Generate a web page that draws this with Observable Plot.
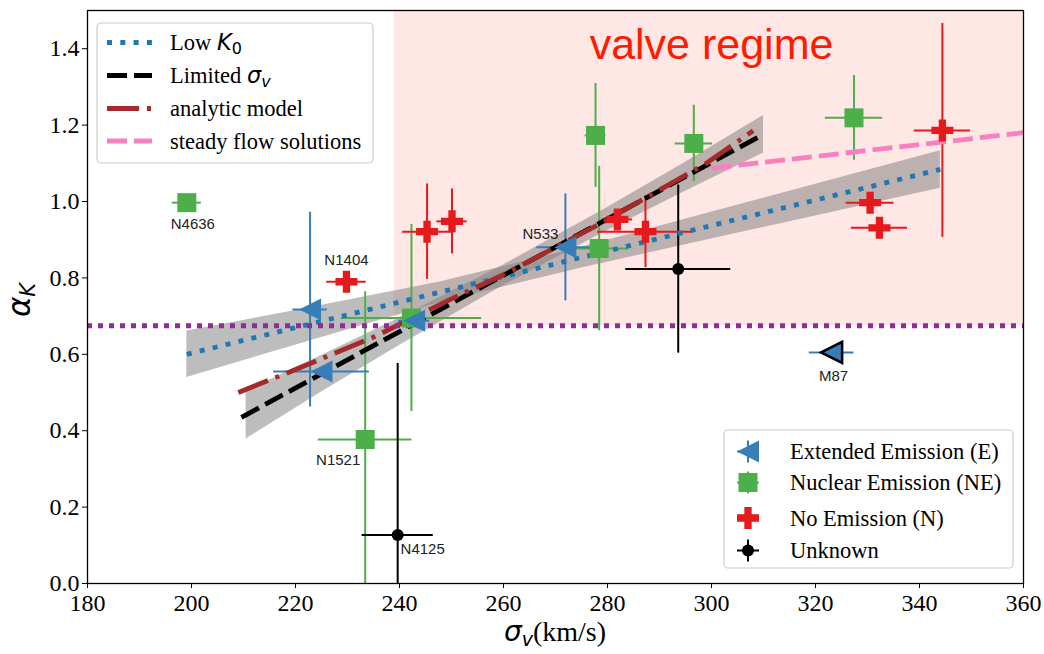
<!DOCTYPE html>
<html><head><meta charset="utf-8">
<script src="https://cdn.jsdelivr.net/npm/d3@7"></script>
<script src="https://cdn.jsdelivr.net/npm/@observablehq/plot@0.6"></script>
<style>body{margin:0;background:#fff}#chart{width:1044px;height:654px}</style>
</head><body><div id="chart"></div>
<script>
// ---- axis ticks ----
const xTicks = [180, 200, 220, 240, 260, 280, 300, 320, 340, 360];
const yTicks = [0, 0.2, 0.4, 0.6, 0.8, 1.0, 1.2, 1.4];

// ---- Extended Emission (E) ----
const eName = ["", "", "", "N533", "M87"];
const eSig = [222.8, 225.0, 242.8, 271.9, 323.1];
const eSigErr = [3.3, 9.2, 3.0, 5.5, 4.3];
const eAlpha = [0.717, 0.555, 0.688, 0.880, 0.605];
const eAlphaErr = [0.255, 0.0, 0.0, 0.14, 0.0];

// ---- Nuclear Emission (NE) ----
const nName = ["N4636", "", "N1521", "", "", "", ""];
const nSig = [199.1, 242.3, 233.4, 277.7, 278.4, 296.6, 327.4];
const nSigErr = [2.8, 13.5, 9.0, 2.0, 5.7, 3.6, 5.5];
const nAlpha = [0.997, 0.695, 0.377, 1.173, 0.877, 1.152, 1.219];
const nAlphaErr = [0.015, 0.245, 0.387, 0.136, 0.215, 0.10, 0.111];

// ---- No Emission (N) ----
const oName = ["N1404", "", "", "", "", "", "", ""];
const oSig = [229.8, 245.3, 250.1, 281.9, 287.3, 330.5, 332.3, 344.4];
const oSigErr = [3.8, 4.7, 2.9, 2.9, 9.2, 4.6, 5.4, 5.4];
const oAlpha = [0.790, 0.921, 0.948, 0.953, 0.921, 0.997, 0.931, 1.186];
const oAlphaErr = [0.0, 0.125, 0.085, 0.0, 0.094, 0.0, 0.0, 0.28];

// ---- Unknown ----
const uName = ["N4125", ""];
const uSig = [239.65, 293.6];
const uSigErr = [6.85, 10.1];
const uAlpha = [0.127, 0.823];
const uAlphaErr = [0.449, 0.22];

// ---- fits ----
const lowKX = [199.1, 344.0];
const lowKY = [0.600, 1.084];
const lowKBandX = [199.1, 219, 248, 275, 306, 344.0];
const lowKBandLo = [0.539, 0.620, 0.736, 0.826, 0.920, 1.035];
const lowKBandHi = [0.661, 0.712, 0.790, 0.880, 0.994, 1.133];

const limX = [209.6, 310.0];
const limY = [0.435, 1.176];
const limBandX = [210.5, 225, 240, 260, 280, 295, 310.0];
const limBandLo = [0.378, 0.501, 0.623, 0.780, 0.924, 1.027, 1.127];
const limBandHi = [0.503, 0.597, 0.695, 0.834, 0.984, 1.103, 1.225];

const anaX = [209, 220, 235, 250, 261, 279, 290, 299, 308];
const anaY = [0.50, 0.56, 0.645, 0.745, 0.815, 0.945, 1.03, 1.10, 1.185];

const steadyX = [300, 360];
const steadyY = [1.087, 1.180];

const criticalAlpha = 0.675;
const valveX = [239, 360];
const valveY = [0.675, 1.5];

// ---- colors ----
const C = {E: "#377eb8", NE: "#4daf4a", N: "#e41a1c", U: "#000000",
  lowK: "#1f77b4", lim: "#000000", ana: "#a52a2a", steady: "#f781bf", crit: "#932a97", valve: "#fee7e4"};

function rows(name, s, se, a, ae) {
  return s.map((v, i) => ({name: name[i], s: v, se: se[i], a: a[i], ae: ae[i]}));
}
const E = rows(eName, eSig, eSigErr, eAlpha, eAlphaErr);
const NE = rows(nName, nSig, nSigErr, nAlpha, nAlphaErr);
const N = rows(oName, oSig, oSigErr, oAlpha, oAlphaErr);
const U = rows(uName, uSig, uSigErr, uAlpha, uAlphaErr);
const pts = (xs, ys) => xs.map((x, i) => ({x, y: ys[i]}));
const band = (xs, lo, hi) => xs.map((x, i) => ({x, lo: lo[i], hi: hi[i]}));

// ---- custom symbols (matplotlib-like) ----
const triLeft = {draw(ctx, size) { const h = Math.sqrt(size / Math.PI); ctx.moveTo(-h, 0); ctx.lineTo(h, -h); ctx.lineTo(h, h); ctx.closePath(); }};
const square = {draw(ctx, size) { const h = Math.sqrt(size / Math.PI); ctx.rect(-h, -h, 2 * h, 2 * h); }};
const plusSym = {draw(ctx, size) { const h = Math.sqrt(size / Math.PI), a = h / 3;
  ctx.moveTo(-a, -h); ctx.lineTo(a, -h); ctx.lineTo(a, -a); ctx.lineTo(h, -a); ctx.lineTo(h, a); ctx.lineTo(a, a);
  ctx.lineTo(a, h); ctx.lineTo(-a, h); ctx.lineTo(-a, a); ctx.lineTo(-h, a); ctx.lineTo(-h, -a); ctx.lineTo(-a, -a); ctx.closePath(); }};

function errorBars(data, color) {
  return [
    Plot.ruleX(data.filter(d => d.ae > 0), {x: "s", y1: d => d.a - d.ae, y2: d => d.a + d.ae, stroke: color, strokeWidth: 2, clip: true}),
    Plot.ruleY(data.filter(d => d.se > 0), {y: "a", x1: d => d.s - d.se, x2: d => d.s + d.se, stroke: color, strokeWidth: 2, clip: true})
  ];
}
const lineOpts = {x: "x", y: "y", strokeWidth: 4.8, strokeLinecap: "butt", strokeLinejoin: "miter"};
const lblFont = {fontFamily: "Liberation Sans", fontSize: 15, fill: "#222"};
function label(data, name, opts) {
  return Plot.text(data.filter(d => d.name === name), {x: "s", y: "a", text: "name", ...lblFont, ...opts});
}

const chart = Plot.plot({
  width: 1044, height: 654,
  marginLeft: 87, marginRight: 21, marginTop: 10, marginBottom: 71,
  style: {fontFamily: "Liberation Serif", fontSize: "24px", color: "black", background: "white"},
  x: {domain: [180, 360]},
  y: {domain: [0, 1.5]},
  marks: [
    Plot.rect([0], {x1: valveX[0], x2: valveX[1], y1: valveY[0], y2: valveY[1], fill: C.valve}),
    Plot.text(["valve regime"], {x: 300, y: 1.372, text: d => d, fill: "#ff1a00", fontFamily: "Liberation Sans", fontSize: 43, textAnchor: "middle", lineAnchor: "bottom"}),
    Plot.areaY(band(lowKBandX, lowKBandLo, lowKBandHi), {x: "x", y1: "lo", y2: "hi", fill: "#808080", fillOpacity: 0.52}),
    Plot.areaY(band(limBandX, limBandLo, limBandHi), {x: "x", y1: "lo", y2: "hi", fill: "#808080", fillOpacity: 0.52}),
    ...errorBars(NE, C.NE),
    ...errorBars(U, C.U),
    ...errorBars(E, C.E),
    ...errorBars(N, C.N),
    Plot.line(pts(lowKX, lowKY), {...lineOpts, stroke: C.lowK, strokeDasharray: "5,8.3"}),
    Plot.line(pts(limX, limY), {...lineOpts, stroke: C.lim, strokeDasharray: "20,7"}),
    Plot.line(pts(anaX, anaY), {...lineOpts, stroke: C.ana, strokeDasharray: "32,8,4,8"}),
    Plot.line(pts(steadyX, steadyY), {...lineOpts, stroke: C.steady, strokeDasharray: "20,7"}),
    Plot.ruleY([criticalAlpha], {stroke: C.crit, strokeWidth: 5, strokeDasharray: "5,6"}),
    Plot.dot(NE, {x: "s", y: "a", symbol: square, r: 9.5, fill: C.NE, stroke: "none"}),
    Plot.dot(N, {x: "s", y: "a", symbol: plusSym, r: 11, fill: C.N, stroke: "none"}),
    Plot.dot(U, {x: "s", y: "a", r: 6, fill: C.U, stroke: "none"}),
    Plot.dot(E.filter(d => d.name !== "M87"), {x: "s", y: "a", symbol: triLeft, r: 11, fill: C.E, stroke: "none"}),
    Plot.dot(E.filter(d => d.name === "M87"), {x: "s", y: "a", symbol: triLeft, r: 10.5, fill: C.E, stroke: "black", strokeWidth: 2.5}),
    label(NE, "N4636", {dx: 6, dy: 22}),
    label(N, "N1404", {dy: -22}),
    label(E, "N533", {dx: -7, dy: -13, textAnchor: "end"}),
    label(NE, "N1521", {dx: -27, dy: 21}),
    label(U, "N4125", {dx: 25, dy: 14}),
    label(E, "M87", {dx: 2, dy: 24}),
    Plot.axisX({ticks: xTicks, tickSize: 5, tickPadding: 5, tickFormat: d => String(d), label: null}),
    Plot.axisY({ticks: yTicks, tickSize: 5, tickPadding: 3, tickFormat: d3.format(".1f"), label: null}),
    Plot.frame({stroke: "black", strokeWidth: 1.3})
  ]
});
document.getElementById("chart").appendChild(chart);

// ---- axis labels & legends (drawn on the plot svg) ----
const svg = d3.select(chart);
function richText(g, x, y, parts, anchor) {
  const t = g.append("text").attr("x", x).attr("y", y).attr("text-anchor", anchor || "start").attr("fill", "black");
  parts.forEach(([s, kind, size]) => {
    const ts = t.append("tspan").text(s);
    if (kind === "it") ts.attr("font-family", "DejaVu Sans").attr("font-style", "italic").attr("font-size", size);
    else if (kind === "itsub") ts.attr("font-family", "DejaVu Sans").attr("font-style", "italic").attr("font-size", size).attr("dy", size * 0.25);
    else if (kind === "sub") ts.attr("font-family", "DejaVu Sans").attr("font-size", size).attr("dy", size * 0.25);
    else if (kind === "back") ts.attr("font-family", "Liberation Serif").attr("font-size", size[0]).attr("dy", -size[1] * 0.25);
    else ts.attr("font-family", "Liberation Serif").attr("font-size", size);
  });
  return t;
}
// x label
richText(svg, 555, 641, [["σ", "it", 28], ["v", "itsub", 19], ["(km/s)", "back", [28, 19]]], "middle");
// y label
const yl = svg.append("g").attr("transform", "translate(30,300) rotate(-90)");
richText(yl, 0, 0, [["α", "it", 31], ["K", "itsub", 21]], "middle");

// legend 1 (lines)
const g1 = svg.append("g");
g1.append("rect").attr("x", 97).attr("y", 23).attr("width", 276).attr("height", 140).attr("rx", 4)
  .attr("fill", "white").attr("fill-opacity", 0.85).attr("stroke", "#cccccc").attr("stroke-width", 1.2);
const leg1 = [
  {y: 42.5, stroke: C.lowK, dash: "5,8.3", parts: [["Low ", "rm", 22.5], ["K", "it", 22.5], ["0", "sub", 16]]},
  {y: 75.5, stroke: C.lim, dash: "20,7", parts: [["Limited ", "rm", 22.5], ["σ", "it", 22.5], ["v", "itsub", 16]]},
  {y: 108.5, stroke: C.ana, dash: "32,8,4,8", parts: [["analytic model", "rm", 22.5]]},
  {y: 141, stroke: C.steady, dash: "20,7", parts: [["steady flow solutions", "rm", 22.5]]}
];
leg1.forEach(r => {
  g1.append("line").attr("x1", 107).attr("x2", 152).attr("y1", r.y).attr("y2", r.y)
    .attr("stroke", r.stroke).attr("stroke-width", 4.8).attr("stroke-dasharray", r.dash);
  richText(g1, 170, r.y + 7.5, r.parts);
});

// legend 2 (markers)
const g2 = svg.append("g");
g2.append("rect").attr("x", 724).attr("y", 430).attr("width", 289).attr("height", 138).attr("rx", 4)
  .attr("fill", "white").attr("fill-opacity", 0.85).attr("stroke", "#cccccc").attr("stroke-width", 1.2);
const leg2 = [
  {y: 451.5, color: C.E, sym: triLeft, r: 11, text: "Extended Emission (E)"},
  {y: 482.5, color: C.NE, sym: square, r: 9.5, text: "Nuclear Emission (NE)"},
  {y: 518, color: C.N, sym: plusSym, r: 11, text: "No Emission (N)"},
  {y: 550.5, color: C.U, sym: d3.symbolCircle, r: 6, text: "Unknown"}
];
leg2.forEach(r => {
  const cx = 748;
  g2.append("line").attr("x1", cx - 11).attr("x2", cx + 11).attr("y1", r.y).attr("y2", r.y).attr("stroke", r.color).attr("stroke-width", 2);
  g2.append("line").attr("x1", cx).attr("x2", cx).attr("y1", r.y - 11).attr("y2", r.y + 11).attr("stroke", r.color).attr("stroke-width", 2);
  g2.append("path").attr("transform", `translate(${cx},${r.y})`).attr("d", d3.symbol().type(r.sym).size(Math.PI * r.r * r.r)()).attr("fill", r.color);
  richText(g2, 790, r.y + 7.5, [[r.text, "rm", 22.5]]);
});
</script>
</body></html>
